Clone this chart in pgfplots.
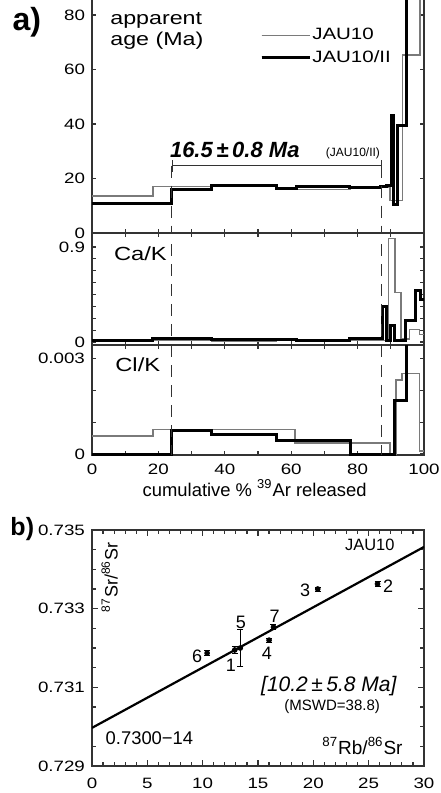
\documentclass[border=0pt]{standalone}
\usepackage{fontspec}
\setmainfont{Liberation Sans}
\newfontfamily\wide{Liberation Sans}[FakeStretch=1.25]
\usepackage{pgfplots}
\pgfplotsset{compat=1.18}
\definecolor{jaugrey}{HTML}{7A7A7A}
\definecolor{axcol}{HTML}{333333}

\tikzset{cut/.style={axcol, line width=0.5pt, dash pattern=on 6pt off 4pt}}
\pgfplotsset{
  panel/.style={
    scale only axis, width=166pt, clip mode=individual,
    xmin=0, xmax=100, scaled ticks=false,
    axis line style={line width=0.7pt, axcol},
    every tick/.style={axcol, line width=0.6pt},
    major tick length=2.2pt, minor tick length=2.2pt,
    tick label style={font=\wide\fontsize{7.5}{8}\selectfont},
    /pgf/number format/assume math mode=true,
    xtick={0,20,...,100}, minor xtick={10,30,...,90},
  },
  jau/.style={const plot, no marks, jaugrey, line width=0.8pt},
  jauii/.style={const plot, no marks, black, line width=1.5pt},
}

\begin{document}
\begin{tikzpicture}
\useasboundingbox (0pt,0pt) rectangle (220pt,-396.5pt);

% a) apparent age
\begin{axis}[panel, height=118.5pt, at={(46pt,-116.5pt)}, anchor=south west,
  ymin=0, ymax=87, ytick={0,20,...,80}, xticklabels={},
  legend style={at={(0.505,0.87)}, anchor=north west, draw=none, fill=none,
    font=\wide\fontsize{8.2}{9}\selectfont, row sep=2.5pt, inner sep=0pt,
    nodes={inner sep=0.6pt}},
  legend image code/.code={\path (0pt,0pt) -- (24pt,0pt); \draw[#1] (0pt,0pt) -- (20pt,0pt);},
  legend cell align=left]
\addlegendimage{jaugrey, line width=0.8pt}\addlegendentry{JAU10}
\addlegendimage{black, line width=1.5pt}\addlegendentry{JAU10/II}
\addplot[jau, forget plot] coordinates {(0,13.6) (18.3,17.0) (36,17.4) (55.6,16.6) (61.6,16.0) (77.7,16.9) (89.8,12.0) (93.5,65.3) (98.8,200) (100,200)};
\addplot[jauii, forget plot] coordinates {(0,11.0) (24,16.0) (36,17.4) (55.6,16.3) (61.6,17.0) (77.7,16.7) (87,17.1) (88.8,17.6) (90.3,43.0) (90.8,10.5) (92.0,39.5) (94.8,200) (100,200)};
\draw[|-|, axcol, line width=0.5pt] (axis cs:24,24.7) -- (axis cs:87.2,24.7);
\draw[cut] (axis cs:24,24.7) -- (axis cs:24,0);
\draw[cut] (axis cs:87.2,24.7) -- (axis cs:87.2,0);
\node[font=\bfseries\itshape\fontsize{11}{12}\selectfont] at (axis cs:43,30.5) {16.5\,±\,0.8 Ma};
\node[font=\fontsize{6}{7}\selectfont] at (axis cs:78.6,29.3) {(JAU10/II)};
\node[anchor=north west, align=left, inner sep=0pt, font=\wide\fontsize{9.3}{10.5}\selectfont] at (axis cs:5.4,81) {apparent\\age (Ma)};
\node[font=\bfseries\fontsize{16}{16}\selectfont] at (axis cs:-19.6,77.5) {a)};
\end{axis}

% Ca/K
\begin{axis}[panel, height=56pt, at={(46pt,-172.5pt)}, anchor=south west,
  ymin=-0.0284, ymax=1.032, ytick={0,0.9}, yticklabels={0,0.9},
  minor ytick={0.1125,0.225,0.3375,0.45,0.5625,0.675,0.7875}, xticklabels={}]
\addplot[jau] coordinates {(0,0.005) (18.3,0.02) (36,0.005) (55.6,0.035) (61.6,0.01) (77.7,0.015) (89.3,0.98) (91.3,0.47) (93.1,0.03) (95.6,0.12) (98.6,0.07) (100,0.07)};
\addplot[jauii] coordinates {(0,0.01) (18.3,0.03) (36,0.02) (61.6,0.01) (77.7,0.035) (87.5,0.34) (88.7,0.01) (90,0.16) (91,0.01) (94.3,0.2) (97.3,0.49) (98.8,0.4) (100,0.4)};
\draw[cut] (rel axis cs:0.24,0.9) -- (rel axis cs:0.24,0);
\draw[cut] (rel axis cs:0.872,0.9) -- (rel axis cs:0.872,0);
\node[anchor=west, font=\wide\fontsize{9.5}{10}\selectfont] at (axis cs:4.5,0.833) {Ca/K};
\end{axis}

% Cl/K
\begin{axis}[panel, height=55pt, at={(46pt,-227.5pt)}, anchor=south west,
  ymin=-0.00003, ymax=0.003417, ytick={0,0.003}, yticklabels={0,0.003},
  minor ytick={0.001,0.002},
  xticklabel style={yshift=-1pt},
  xlabel={cumulative \% \textsuperscript{39}Ar released},
  xlabel style={font=\fontsize{9.2}{10}\selectfont, at={(axis description cs:0.49,0)}, anchor=center, yshift=-16.5pt}]
\addplot[jau] coordinates {(0,0.00056) (18.3,0.00077) (61.1,0.00035) (89.8,0) (91.6,0.00232) (93.3,0.00253) (98.6,0.0001) (100,0.0001)};
\addplot[jauii] coordinates {(0,0) (24,0.00073) (36,0.0006) (55.6,0.00044) (78,0) (91.1,0.00167) (94.8,0.005) (100,0.005)};
\draw[cut] (rel axis cs:0.24,1) -- (rel axis cs:0.24,0);
\draw[cut] (rel axis cs:0.872,1) -- (rel axis cs:0.872,0);
\node[anchor=west, font=\wide\fontsize{9.5}{10}\selectfont] at (axis cs:4.9,0.00279) {Cl/K};
\end{axis}

% b) isochron
\begin{axis}[scale only axis, width=166pt, height=118pt, at={(46pt,-383pt)}, anchor=south west,
  clip mode=individual, scaled ticks=false,
  xmin=0, xmax=30, ymin=0.729, ymax=0.735,
  xtick={0,5,...,30}, minor x tick num=4,
  ytick={0.729,0.731,0.733,0.735}, yticklabels={0.729,0.731,0.733,0.735},
  minor y tick num=3,
  axis line style={line width=0.7pt, axcol},
  every tick/.style={axcol, line width=0.6pt},
  major tick length=3pt, minor tick length=1.8pt,
  tick label style={font=\wide\fontsize{7.5}{8}\selectfont},
  xticklabel style={yshift=-2.5pt},
  /pgf/number format/assume math mode=true]
\addplot[black, line width=1.1pt] coordinates {(0,0.72997) (30,0.73457)};
\addplot[black, only marks, mark=*, mark size=1.2pt,
  error bars/.cd, y dir=both, y explicit,
  error bar style={line width=0.6pt}, error mark options={rotate=90, mark size=1.5pt}]
  table[x=x, y=y, y error=e] {
x y e
10.4 0.73187 0.00006
12.9 0.73195 0.00008
13.4 0.73200 0.00048
16.0 0.73220 0.00005
16.4 0.73253 0.00006
20.4 0.73350 0.00005
25.8 0.73363 0.00006
};
\begin{scope}[font=\fontsize{9}{10}\selectfont]
\node at (axis cs:9.5,0.73178) {6};
\node at (axis cs:12.55,0.73157) {1};
\node at (axis cs:13.45,0.73264) {5};
\node at (axis cs:15.8,0.73187) {4};
\node at (axis cs:16.5,0.7328) {7};
\node at (axis cs:19.25,0.73347) {3};
\node at (axis cs:26.75,0.73358) {2};
\end{scope}
\node[font=\fontsize{8.2}{9}\selectfont] at (axis cs:25.1,0.73462) {JAU10};
\node[rotate=90, font=\fontsize{9}{10}\selectfont] at (axis cs:1.6,0.7338) {\textsuperscript{87}Sr/\textsuperscript{86}Sr};
\node[font=\itshape\fontsize{10.5}{12}\selectfont] at (axis cs:21.4,0.73102) {[10.2\,±\,5.8 Ma]};
\node[font=\fontsize{7.5}{8}\selectfont] at (axis cs:21.7,0.7305) {(MSWD=38.8)};
\node[anchor=west, font=\fontsize{9.2}{10}\selectfont] at (axis cs:0.6,0.72971) {0.7300−14};
\node[anchor=east, font=\fontsize{9.5}{10}\selectfont] at (axis cs:28.7,0.72951) {\textsuperscript{87}Rb/\textsuperscript{86}Sr};
\node[font=\bfseries\fontsize{12.5}{13}\selectfont] at (axis cs:-6.3,0.73502) {b)};
\end{axis}
\end{tikzpicture}
\end{document}
